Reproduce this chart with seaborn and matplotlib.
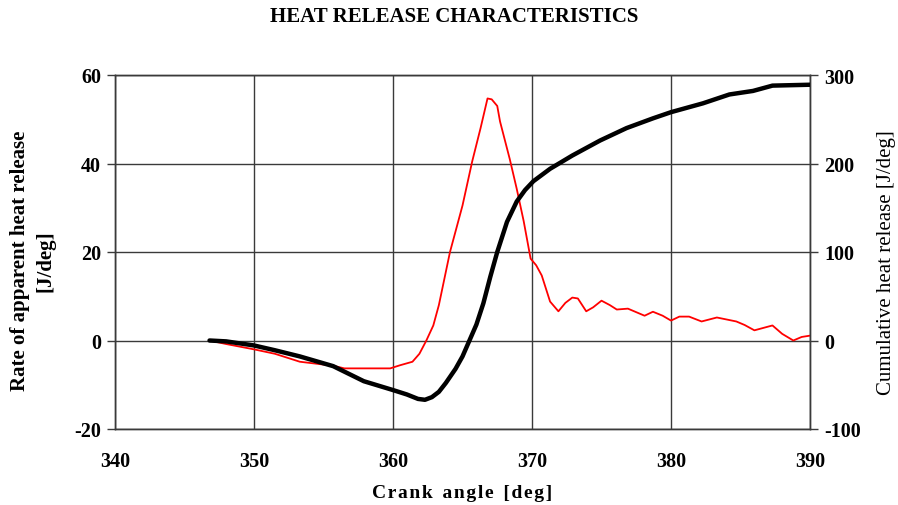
import matplotlib
matplotlib.use("Agg")
import matplotlib.pyplot as plt
import seaborn as sns
import pandas as pd

# Rate of apparent heat release (left axis)
rate_angle = [346.8, 348.0, 350.0, 351.5, 353.3, 355.7, 356.5, 358.0, 359.8, 360.5,
              361.4, 361.9, 362.4, 362.9, 363.3, 363.7, 364.1, 365.0, 365.7, 366.3,
              366.8, 367.1, 367.5, 367.7, 368.4, 368.9, 369.4, 369.9, 370.3, 370.7,
              371.3, 371.9, 372.4, 372.9, 373.3, 373.9, 374.4, 375.0, 375.6, 376.1,
              376.9, 378.1, 378.7, 379.4, 380.0, 380.6, 381.3, 382.2, 383.3, 384.7,
              385.3, 386.0, 387.3, 388.0, 388.8, 389.4, 390.0]
rate_value = [0.0, -0.8, -2.0, -3.0, -4.8, -5.7, -6.3, -6.3, -6.3, -5.6,
              -4.8, -3.0, 0.0, 3.4, 8.0, 14.0, 20.0, 30.5, 40.5, 48.0,
              54.7, 54.5, 53.0, 49.5, 41.0, 34.3, 27.0, 18.5, 17.0, 14.7,
              8.8, 6.6, 8.5, 9.7, 9.5, 6.6, 7.5, 9.0, 8.0, 7.0,
              7.2, 5.6, 6.5, 5.6, 4.5, 5.4, 5.4, 4.3, 5.2, 4.3,
              3.5, 2.3, 3.4, 1.5, 0.0, 0.8, 1.1]

# Cumulative heat release (right axis)
cum_angle = [346.8, 348.0, 350.0, 351.5, 353.3, 355.7, 357.9, 360.0, 361.0, 361.8,
             362.3, 362.8, 363.3, 363.8, 364.5, 365.0, 365.5, 366.0, 366.5, 367.0,
             367.5, 368.2, 368.9, 369.5, 370.1, 371.3, 372.9, 374.9, 376.8, 378.7,
             380.0, 382.3, 384.2, 385.9, 387.3, 390.0]
cum_value = [0.0, -1.0, -5.6, -11.0, -18.0, -29.0, -46.0, -56.0, -61.0, -66.0,
             -67.0, -64.0, -58.0, -48.0, -32.0, -18.0, 0.0, 18.0, 42.0, 72.0,
             100.0, 134.0, 157.0, 170.0, 180.0, 194.0, 209.0, 226.0, 240.0, 251.0,
             258.0, 268.0, 278.0, 282.0, 288.0, 289.0]

x_ticks = [340, 350, 360, 370, 380, 390]
left_ticks = [-20, 0, 20, 40, 60]
right_ticks = [-100, 0, 100, 200, 300]

sns.set_style("white")
plt.rcParams['font.family'] = ['Liberation Serif', 'DejaVu Serif']
plt.rcParams['axes.unicode_minus'] = False
plt.rcParams['text.color'] = 'black'
plt.rcParams['axes.labelcolor'] = 'black'
plt.rcParams['xtick.color'] = 'black'
plt.rcParams['ytick.color'] = 'black'

rate_df = pd.DataFrame({"angle": rate_angle, "rate": rate_value})
cum_df = pd.DataFrame({"angle": cum_angle, "cum": cum_value})

fig = plt.figure(figsize=(8.98, 5.06), dpi=100)
ax = fig.add_axes([115/898, 1 - 430/506, (810-115)/898, (430-76)/506])
ax2 = ax.twinx()

sns.lineplot(data=rate_df, x="angle", y="rate", ax=ax, color="#ff0000",
             linewidth=1.3, sort=False, zorder=3)
sns.lineplot(data=cum_df, x="angle", y="cum", ax=ax2, color="black",
             linewidth=3.2, sort=False, zorder=3)

ax.set_xlim(340, 390)
ax.set_ylim(-20, 60)
ax2.set_ylim(-100, 300)
ax.set_xticks(x_ticks)
ax.set_yticks(left_ticks)
ax2.set_yticks(right_ticks)

ax.grid(True, color="#3a3a3a", linewidth=1.0)
ax.set_axisbelow(True)
for a in (ax, ax2):
    for s in a.spines.values():
        s.set_color("#3a3a3a")
        s.set_linewidth(1.0)

ax.tick_params(axis="x", length=0, pad=16, labelsize=14.5)
ax.tick_params(axis="y", length=6, width=1, color="#3a3a3a", pad=4, labelsize=14.5)
ax2.tick_params(axis="y", length=6, width=1, color="#3a3a3a", pad=4, labelsize=14.5)
for lab in ax.get_xticklabels() + ax.get_yticklabels() + ax2.get_yticklabels():
    lab.set_fontweight("bold")

xlabel_text = "\u200a".join("Crank") + "  " + "\u200a".join("angle") + "  " + "\u200a".join("[deg]")
ax.set_xlabel(xlabel_text, fontsize=14, fontweight="bold")
ax.xaxis.set_label_coords(0.5, -0.155)
ax.set_ylabel("Rate of apparent heat release\n[J/deg]", fontsize=15,
              fontweight="semibold", linespacing=1.4)
ax.yaxis.set_label_coords(-0.085, 0.478)
ax2.set_ylabel("Cumulative heat release [J/deg]", fontsize=15)
ax2.yaxis.set_label_coords(1.096, 0.474)

fig.text(454/898, 1 - 17/506, "HEAT RELEASE CHARACTERISTICS", ha="center",
         va="center", fontsize=15, fontweight="bold")

fig.savefig("out.png", dpi=100)
